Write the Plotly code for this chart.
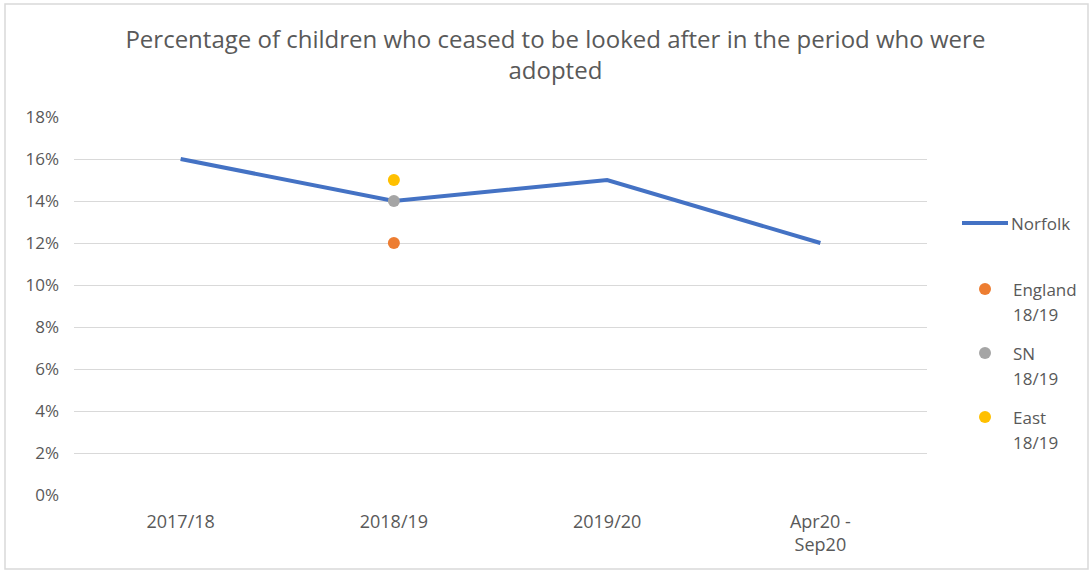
import plotly.graph_objects as go

periods = ["2017/18", "2018/19", "2019/20", "Apr20 -<br>Sep20"]
norfolk = [16, 14, 15, 12]

bench_period = "2018/19"
england = 12
sn = 14
east = 15

y_ticks = [0, 2, 4, 6, 8, 10, 12, 14, 16, 18]
y_labels = [f"{v}%" for v in y_ticks]

benchmarks = [
    ("England", "18/19", england, "#ED7D31"),
    ("SN", "18/19", sn, "#A5A5A5"),
    ("East", "18/19", east, "#FFC000"),
]

grey_text = "#595959"
font_family = "Open Sans, Liberation Sans, sans-serif"
norfolk_color = "#4472C4"

# plot-area geometry in pixels, used to place the side key
W, H = 1089, 572
L, R, T, B = 74, 162, 117, 77
PW, PH = W - L - R, H - T - B


def px(x):
    return (x - L) / PW


def py(y):
    return (H - B - y) / PH


fig = go.Figure()
fig.add_trace(go.Scatter(
    x=periods, y=norfolk, mode="lines", name="Norfolk",
    line=dict(color=norfolk_color, width=4), showlegend=False,
))
for name, period_label, value, color in benchmarks:
    fig.add_trace(go.Scatter(
        x=[bench_period], y=[value], mode="markers",
        name=f"{name} {period_label}", showlegend=False,
        marker=dict(color=color, size=12),
    ))

# side key: Norfolk line swatch followed by the three benchmark dots
shapes = [
    dict(type="rect", xref="paper", yref="paper",
         x0=px(5), x1=px(1088), y0=py(569), y1=py(4),
         line=dict(color="#D9D9D9", width=1.5), fillcolor="rgba(0,0,0,0)",
         layer="below"),
    dict(type="line", xref="paper", yref="paper",
         x0=px(962), x1=px(1008), y0=py(223), y1=py(223),
         line=dict(color=norfolk_color, width=4)),
]
annotations = [
    dict(text="Norfolk", xref="paper", yref="paper", x=px(1009), y=py(223),
         xanchor="left", yanchor="middle", showarrow=False,
         font=dict(size=17, color=grey_text)),
]
key_top = 289
for i, (name, period_label, value, color) in enumerate(benchmarks):
    yc = key_top + 64 * i
    shapes.append(dict(
        type="circle", xref="paper", yref="paper",
        xsizemode="pixel", ysizemode="pixel",
        xanchor=px(985), yanchor=py(yc),
        x0=-6, x1=6, y0=-6, y1=6,
        fillcolor=color, line=dict(width=0),
    ))
    for j, line_text in enumerate([name, period_label]):
        annotations.append(dict(
            text=line_text, xref="paper", yref="paper",
            x=px(1011), y=py(yc + 25 * j),
            xanchor="left", yanchor="middle", showarrow=False,
            font=dict(size=17, color=grey_text),
        ))

fig.update_layout(
    width=W, height=H,
    margin=dict(l=L, r=R, t=T, b=B),
    paper_bgcolor="white", plot_bgcolor="white",
    font=dict(family=font_family, color=grey_text, size=17),
    showlegend=False,
    title=dict(
        text="Percentage of children who ceased to be looked after in the period who were<br>adopted",
        x=0.51, xanchor="center", y=0.916, yanchor="top",
        font=dict(size=24, color=grey_text, family=font_family),
    ),
    xaxis=dict(
        type="category", range=[-0.5, 3.5], showgrid=False, zeroline=False,
        showline=False, ticks="", ticklabelstandoff=14,
        tickfont=dict(size=18, color=grey_text),
    ),
    yaxis=dict(
        range=[0, 18], tickvals=y_ticks, ticktext=y_labels,
        showgrid=True, gridcolor="#D9D9D9", gridwidth=1,
        zeroline=False, showline=False, ticks="", ticklabelstandoff=14,
        tickfont=dict(size=17, color=grey_text),
    ),
    shapes=shapes,
    annotations=annotations,
)

fig.write_html("out.html")
